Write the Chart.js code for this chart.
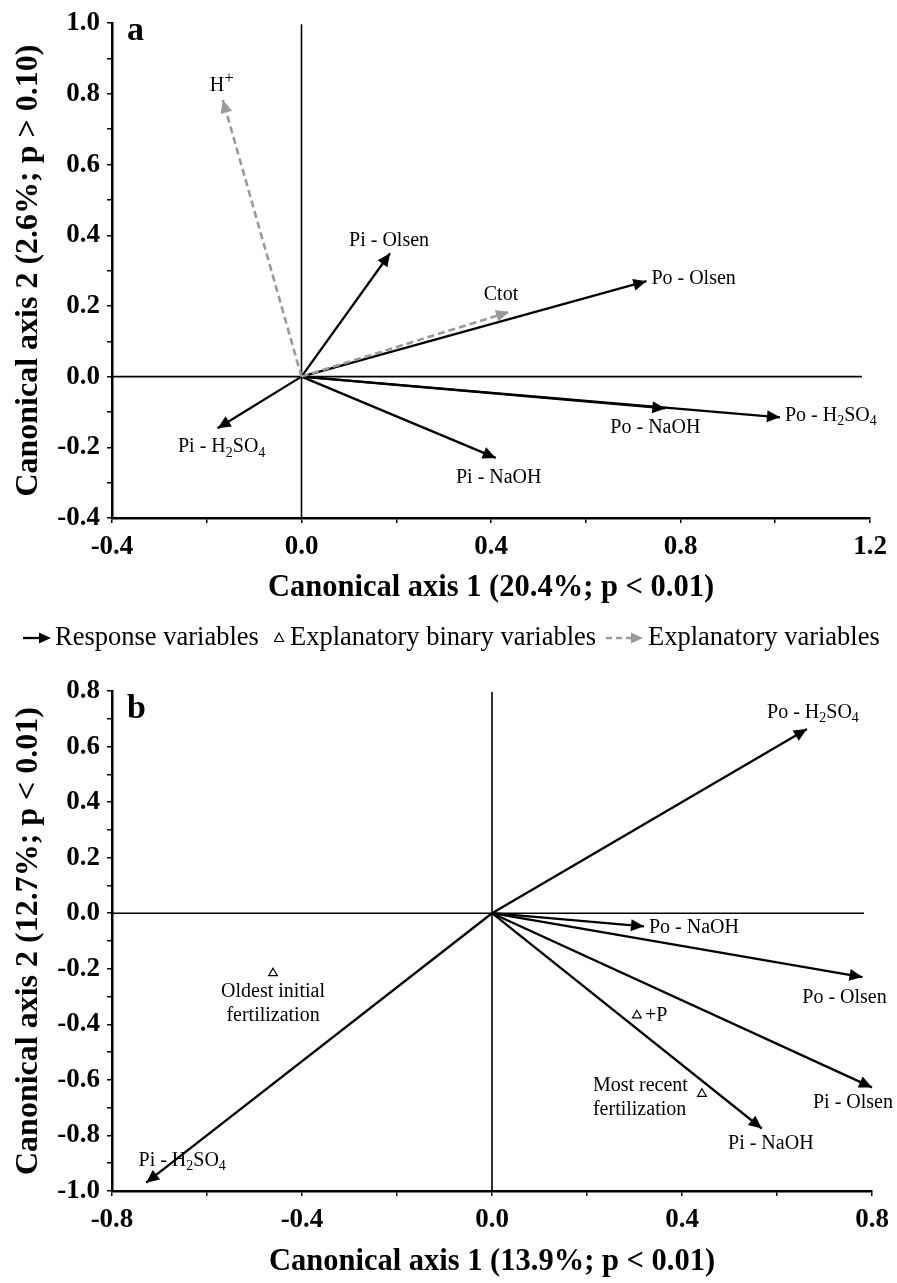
<!DOCTYPE html>
<html>
<head>
<meta charset="utf-8">
<script src="https://cdn.jsdelivr.net/npm/chart.js@4.4.1/dist/chart.umd.min.js"></script>
<style>
html,body{margin:0;padding:0;background:#fff;}
#wrapA{position:absolute;left:0;top:0;width:897px;height:610px;}
#wrapB{position:absolute;left:0;top:610px;width:897px;height:673px;}
canvas{display:block;}
</style>
</head>
<body>
<div id="wrapA"><canvas id="chartA" width="897" height="610"></canvas></div>
<div id="wrapB"><canvas id="chartB" width="897" height="673"></canvas></div>
<script>
// ---------------- DATA : panel a ----------------
const aResponseLabels = ['Pi - Olsen', 'Po - Olsen', 'Po - NaOH', 'Po - H_2SO_4', 'Pi - NaOH', 'Pi - H_2SO_4'];
const aResponseX = [0.187, 0.728, 0.768, 1.010, 0.410, -0.177];
const aResponseY = [0.349, 0.270, -0.090, -0.115, -0.230, -0.146];
const aExplanatoryLabels = ['H^+', 'Ctot'];
const aExplanatoryX = [-0.166, 0.438];
const aExplanatoryY = [0.783, 0.183];
const aXRange = [-0.4, 1.2];
const aYRange = [-0.4, 1.0];
const aXTitle = 'Canonical axis 1 (20.4%; p < 0.01)';
const aYTitle = 'Canonical axis 2 (2.6%; p > 0.10)';

// ---------------- DATA : panel b ----------------
const bResponseLabels = ['Po - H_2SO_4', 'Po - NaOH', 'Po - Olsen', 'Pi - Olsen', 'Pi - NaOH', 'Pi - H_2SO_4'];
const bResponseX = [0.663, 0.320, 0.780, 0.800, 0.568, -0.728];
const bResponseY = [0.663, -0.047, -0.230, -0.627, -0.775, -0.970];
const bBinaryLabels = [['Oldest initial', 'fertilization'], ['+P'], ['Most recent', 'fertilization']];
const bBinaryX = [-0.461, 0.305, 0.442];
const bBinaryY = [-0.216, -0.368, -0.650];
const bXRange = [-0.8, 0.8];
const bYRange = [-1.0, 0.8];
const bXTitle = 'Canonical axis 1 (13.9%; p < 0.01)';
const bYTitle = 'Canonical axis 2 (12.7%; p < 0.01)';

const legendLabels = ['Response variables', 'Explanatory binary variables', 'Explanatory variables'];

// ---------------- LAYOUT / STYLE (not data) ----------------
const SERIF = "'Liberation Serif','Times New Roman',Times,serif";
const GRAY = '#9a9a9a';
// label offsets in pixels from the arrow tip / marker: [dx, dy, align]
const aResponseLabelPos = [[-1,-13,'center'],[5,-2,'left'],[-10,19,'center'],[5,-2,'left'],[3,20,'center'],[4,19,'center']];
const aExplanatoryLabelPos = [[-1,-14,'center'],[-8,-17,'center']];
const bResponseLabelPos = [[6,-16,'center'],[5,1,'left'],[-18,21,'center'],[-19,15,'center'],[9,15,'center'],[36,-22,'center']];
const bBinaryLabelPos = [[0,19,'center'],[8,0,'left'],[-109,-8,'left']];

function richParts(str){
  const parts=[]; let i=0, buf='';
  while(i<str.length){
    const c=str[i];
    if((c==='_'||c==='^') && i+1<str.length){
      if(buf){parts.push({t:buf,m:0}); buf='';}
      parts.push({t:str[i+1], m:c==='_'?1:-1}); i+=2;
    } else { buf+=c; i++; }
  }
  if(buf) parts.push({t:buf,m:0});
  return parts;
}
function drawRich(ctx, str, x, y, align, size){
  const parts=richParts(str);
  const base = size+'px '+SERIF;
  const small = Math.round(size*0.72)+'px '+SERIF;
  const sup = Math.round(size*0.85)+'px '+SERIF;
  const fontOf = (p)=> p.m===1? small : (p.m===-1? sup : base);
  let w=0;
  parts.forEach(p=>{ctx.font=fontOf(p); p.w=ctx.measureText(p.t).width; w+=p.w;});
  let cx = align==='left'? x : (align==='right'? x-w : x-w/2);
  ctx.textBaseline='middle'; ctx.textAlign='left'; ctx.fillStyle='#000';
  parts.forEach(p=>{
    ctx.font=fontOf(p);
    const off = p.m===1? size*0.28 : (p.m===-1? -size*0.38 : 0);
    ctx.fillText(p.t, cx, y+off); cx+=p.w;
  });
}
function arrowHead(ctx,x0,y0,x1,y1,color,len,half){
  const a=Math.atan2(y1-y0,x1-x0);
  ctx.save(); ctx.translate(x1,y1); ctx.rotate(a);
  ctx.beginPath(); ctx.moveTo(0,0); ctx.lineTo(-len,-half); ctx.lineTo(-len,half); ctx.closePath();
  ctx.fillStyle=color; ctx.fill(); ctx.restore();
}

function arrowSets(xs, ys, names, kind){
  return xs.map((x,i)=>({
    label: names[i].replace(/[_^]/g,''),
    kind: kind,
    data: [{x:0,y:0},{x:x,y:ys[i]}],
    showLine: true, pointRadius: 0, pointHoverRadius: 0,
    borderColor: kind==='exp'? GRAY : '#000',
    borderWidth: kind==='exp'? 2.6 : 2.3,
    borderDash: kind==='exp'? [7,4] : [],
    fill: false, clip: false, tension: 0, order: 1
  }));
}

function fmt(v){ return Math.abs(v)<1e-9 ? '0.0' : Number(v).toFixed(1); }

function makeScales(xr, yr, xTitle, yTitle, xTitlePad, chartBottomSpace){
  const tickFont = {family:SERIF, size:27, weight:'bold'};
  return {
    x: {
      type:'linear', position:'bottom', min:xr[0], max:xr[1],
      ticks:{stepSize:0.2, autoSkip:false, maxRotation:0, color:'#000', font:tickFont, padding:8,
        callback:(v)=> (Math.abs(Math.round(v*10))%4===0) ? fmt(v) : ''},
      grid:{display:true, drawOnChartArea:false, drawTicks:true, tickLength:5, color:'#000', lineWidth:1.5},
      border:{display:true, color:'#000', width:2.5},
      title:{display:true, text:xTitle, color:'#000', font:{family:SERIF, size:30.5, weight:'bold'}, padding:{top:0, bottom:xTitlePad}},
      afterFit:(s)=>{ s.height = chartBottomSpace; }
    },
    y: {
      type:'linear', position:'left', min:yr[0], max:yr[1],
      ticks:{stepSize:0.1, autoSkip:false, color:'#000', font:tickFont, padding:7,
        callback:(v)=> (Math.abs(Math.round(v*10))%2===0) ? fmt(v) : ''},
      grid:{display:true, drawOnChartArea:false, drawTicks:true, tickLength:5, color:'#000', lineWidth:1.5},
      border:{display:true, color:'#000', width:2.5},
      title:{display:true, text:yTitle, color:'#000', font:{family:SERIF, size:32, weight:'bold'}, padding:{top:10, bottom:0}},
      afterFit:(s)=>{ s.width = 112; }
    }
  };
}

const zeroLines = {
  id:'zeroLines',
  beforeDatasetsDraw(chart){
    const {ctx, chartArea, scales:{x,y}} = chart;
    const px = x.getPixelForValue(0), py = y.getPixelForValue(0);
    ctx.save(); ctx.strokeStyle='#000'; ctx.lineWidth=1.6;
    ctx.beginPath(); ctx.moveTo(px, chartArea.top+1); ctx.lineTo(px, chartArea.bottom); ctx.stroke();
    ctx.beginPath(); ctx.moveTo(chartArea.left, py); ctx.lineTo(chartArea.right-8, py); ctx.stroke();
    ctx.restore();
  }
};

const arrowsAndLabels = {
  id:'arrowsAndLabels',
  afterDatasetsDraw(chart, args, opts){
    const ctx=chart.ctx;
    chart.data.datasets.forEach((ds,i)=>{
      const meta=chart.getDatasetMeta(i);
      if(ds.kind==='resp' || ds.kind==='exp'){
        const p0=meta.data[0], p1=meta.data[1];
        arrowHead(ctx,p0.x,p0.y,p1.x,p1.y, ds.kind==='exp'?GRAY:'#000', 13, 6);
        const pos = ds.labelPos;
        drawRich(ctx, ds.richLabel, p1.x+pos[0], p1.y+pos[1], pos[2], 20);
      } else if(ds.kind==='binary'){
        meta.data.forEach((pt,j)=>{
          const pos=ds.labelPositions[j];
          ds.richLabels[j].forEach((line,k)=>{
            drawRich(ctx, line, pt.x+pos[0], pt.y+pos[1]+k*23.5, pos[2], 20);
          });
        });
      }
    });
    if(opts && opts.letter){
      ctx.save(); ctx.font='bold 34px '+SERIF; ctx.fillStyle='#000'; ctx.textAlign='left'; ctx.textBaseline='alphabetic';
      ctx.fillText(opts.letter, chart.chartArea.left+15, chart.chartArea.top+opts.letterDy);
      ctx.restore();
    }
  }
};

const legendDraw = {
  id:'legendDraw',
  afterDraw(chart){
    const ctx=chart.ctx; const yc=28, yb=35;
    ctx.save();
    ctx.strokeStyle='#000'; ctx.lineWidth=2.3;
    ctx.beginPath(); ctx.moveTo(23,yc); ctx.lineTo(42,yc); ctx.stroke();
    arrowHead(ctx,23,yc,51,yc,'#000',12,5.5);
    ctx.beginPath(); ctx.moveTo(279,yc-5); ctx.lineTo(283.5,yc+3.5); ctx.lineTo(274.5,yc+3.5); ctx.closePath();
    ctx.fillStyle='#fff'; ctx.fill(); ctx.strokeStyle='#000'; ctx.lineWidth=1.2; ctx.stroke();
    ctx.strokeStyle=GRAY; ctx.lineWidth=2.6; ctx.setLineDash([6,4]);
    ctx.beginPath(); ctx.moveTo(606,yc); ctx.lineTo(632,yc); ctx.stroke(); ctx.setLineDash([]);
    arrowHead(ctx,606,yc,643,yc,GRAY,12,5.5);
    ctx.font='26.5px '+SERIF; ctx.fillStyle='#000'; ctx.textAlign='left'; ctx.textBaseline='alphabetic';
    ctx.fillText(legendLabels[0],55,yb);
    ctx.fillText(legendLabels[1],290,yb);
    ctx.fillText(legendLabels[2],648,yb);
    ctx.restore();
  }
};

// ---------------- chart a ----------------
const aSets = arrowSets(aExplanatoryX, aExplanatoryY, aExplanatoryLabels, 'exp')
  .concat(arrowSets(aResponseX, aResponseY, aResponseLabels, 'resp'));
aSets.forEach((ds,i)=>{
  if(i<aExplanatoryLabels.length){ ds.richLabel=aExplanatoryLabels[i]; ds.labelPos=aExplanatoryLabelPos[i]; }
  else { const k=i-aExplanatoryLabels.length; ds.richLabel=aResponseLabels[k]; ds.labelPos=aResponseLabelPos[k]; }
});

new Chart(document.getElementById('chartA'), {
  type:'scatter',
  data:{datasets:aSets},
  options:{
    responsive:false, animation:false, events:[],
    layout:{padding:{left:0, right:27, top:21, bottom:0}},
    scales: makeScales(aXRange, aYRange, aXTitle, aYTitle, 4, 92),
    plugins:{legend:{display:false}, tooltip:{enabled:false}, arrowsAndLabels:{letter:'a', letterDy:17}}
  },
  plugins:[zeroLines, arrowsAndLabels]
});

// ---------------- chart b ----------------
const bSets = arrowSets(bResponseX, bResponseY, bResponseLabels, 'resp');
bSets.forEach((ds,i)=>{ ds.richLabel=bResponseLabels[i]; ds.labelPos=bResponseLabelPos[i]; });
bSets.push({
  label:'Explanatory binary variables', kind:'binary',
  data: bBinaryX.map((x,i)=>({x:x, y:bBinaryY[i]})),
  showLine:false, pointStyle:'triangle', pointRadius:5, pointHoverRadius:5,
  backgroundColor:'#fff', borderColor:'#000', borderWidth:1.2, clip:false,
  richLabels: bBinaryLabels, labelPositions: bBinaryLabelPos
});

new Chart(document.getElementById('chartB'), {
  type:'scatter',
  data:{datasets:bSets},
  options:{
    responsive:false, animation:false, events:[],
    layout:{padding:{left:0, right:25, top:81, bottom:0}},
    scales: makeScales(bXRange, bYRange, bXTitle, bYTitle, 3, 92),
    plugins:{legend:{display:false}, tooltip:{enabled:false}, arrowsAndLabels:{letter:'b', letterDy:27}}
  },
  plugins:[zeroLines, arrowsAndLabels, legendDraw]
});
</script>
</body>
</html>
